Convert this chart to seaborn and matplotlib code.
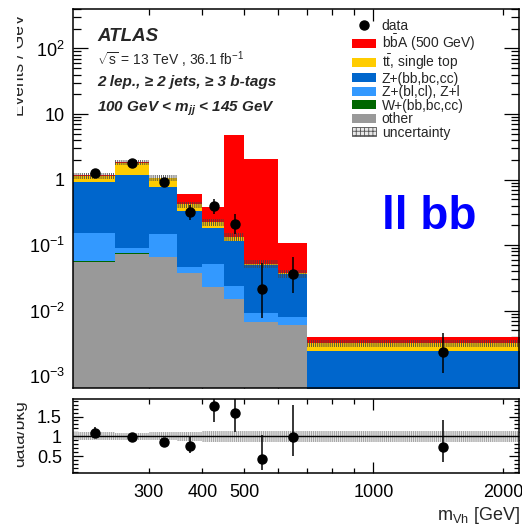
import numpy as np
import pandas as pd
import matplotlib
matplotlib.use("Agg")
import matplotlib.pyplot as plt
import seaborn as sns
from matplotlib.patches import Patch
from matplotlib.lines import Line2D
from matplotlib.ticker import LogLocator, FuncFormatter, NullFormatter, MultipleLocator
from matplotlib.transforms import Bbox, TransformedBbox

# ---- binning (GeV) ----
bin_edges = [200, 250, 300, 350, 400, 450, 500, 600, 700, 2200]
bin_centers = [225, 275, 325, 375, 425, 475, 550, 650, 1450]

# ---- expected yields, events / GeV ----
signal = [0.005, 0.03, 0.02, 0.18, 0.165, 4.6, 2.04, 0.072, 0.0008]
top = [0.23, 0.62, 0.29, 0.09, 0.037, 0.018, 0.0008, 0.001, 0.00075]
z_hf = [0.77, 1.10, 0.615, 0.28, 0.134, 0.092, 0.041, 0.028, 0.002]
z_lf = [0.094, 0.017, 0.080, 0.009, 0.028, 0.0085, 0.0026, 0.002, 0.0001]
w_hf = [0.0005, 0.0005, 0.0005, 0.0003, 0.0002, 0.0002, 0.0001, 0.0001, 0.00002]
other = [0.056, 0.074, 0.065, 0.037, 0.023, 0.015, 0.0066, 0.006, 0.0003]
syst_rel = [0.10, 0.09, 0.10, 0.11, 0.13, 0.13, 0.14, 0.14, 0.13]

# ---- observed data ----
data = [1.26, 1.77, 0.91, 0.32, 0.39, 0.213, 0.0217, 0.0367, 0.0023]
data_err_lo = [0.17, 0.17, 0.10, 0.08, 0.09, 0.065, 0.014, 0.018, 0.0012]
data_err_hi = [0.17, 0.17, 0.10, 0.09, 0.11, 0.09, 0.031, 0.03, 0.0022]

process_labels = [r"b$\bar{\mathrm{b}}$A (500 GeV)", r"t$\bar{\mathrm{t}}$, single top",
                  "Z+(bb,bc,cc)", "Z+(bl,cl), Z+l", "W+(bb,bc,cc)", "other"]
process_colors = ["#ff0000", "#ffcc00", "#0066cc", "#3399ff", "#006600", "#999999"]

sns.set_style("ticks")
plt.rcParams["font.family"] = ["Liberation Sans", "DejaVu Sans"]
plt.rcParams["mathtext.fontset"] = "custom"
plt.rcParams["mathtext.rm"] = "Liberation Sans"
plt.rcParams["mathtext.it"] = "Liberation Sans:italic:bold"
plt.rcParams["mathtext.bf"] = "Liberation Sans:bold"
plt.rcParams["axes.edgecolor"] = "black"
plt.rcParams["xtick.color"] = "black"
plt.rcParams["ytick.color"] = "black"
plt.rcParams["hatch.linewidth"] = 0.6

yields = [signal, top, z_hf, z_lf, w_hf, other]
df = pd.DataFrame({
    "m_vh": np.tile(bin_centers, len(yields)),
    "events": np.concatenate(yields),
    "process": np.repeat(process_labels, len(bin_centers)),
})

bkg = np.sum([top, z_hf, z_lf, w_hf, other], axis=0)
syst = np.array(syst_rel)
data_a = np.array(data)
lo_a = np.array(data_err_lo)
hi_a = np.array(data_err_hi)

fig = plt.figure(figsize=(5.22, 5.24), dpi=100)
W, H = 522.0, 524.0
left, right = 73 / W, 519 / W
ax = fig.add_axes([left, 1 - 388 / H, right - left, (388 - 9) / H])
rax = fig.add_axes([left, 1 - 473 / H, right - left, (473 - 399) / H])

# ---- stacked histogram ----
sns.histplot(data=df, x="m_vh", weights="events", hue="process",
             hue_order=process_labels, palette=process_colors, bins=bin_edges,
             multiple="stack", element="step", fill=True, alpha=1, linewidth=0,
             legend=False, ax=ax)

# background uncertainty band
ax.stairs(bkg * (1 + syst), bin_edges, baseline=bkg * (1 - syst), fill=True,
          facecolor="none", edgecolor="#444444", hatch="||||||||", linewidth=0)

ax.errorbar(bin_centers, data, yerr=[data_err_lo, data_err_hi], fmt="o",
            color="black", ms=6.5, elinewidth=1.1, capsize=0, zorder=5)

ax.set_xscale("log")
ax.set_yscale("log")
ax.set_xlim(200, 2180)
ax.set_ylim(6.6e-4, 400)
ax.set_xlabel("")
ax.set_ylabel("")


def decade_label(v, pos):
    e = int(round(np.log10(v)))
    if e == 0:
        return "1"
    if e == 1:
        return "10"
    return r"$\mathrm{10^{%d}}$" % e


ax.yaxis.set_major_locator(LogLocator(base=10, numticks=20))
ax.yaxis.set_minor_locator(LogLocator(base=10, subs=np.arange(2, 10), numticks=20))
ax.yaxis.set_major_formatter(FuncFormatter(decade_label))
ax.yaxis.set_minor_formatter(NullFormatter())

minor_x = [300, 400, 500, 600, 700, 800, 900, 2000]
ax.set_xticks([1000])
ax.set_xticks(minor_x, minor=True)
ax.xaxis.set_major_formatter(NullFormatter())
ax.xaxis.set_minor_formatter(NullFormatter())

ax.tick_params(which="both", direction="in", top=True, right=True, width=0.9)
ax.tick_params(axis="y", which="major", length=10.5, labelsize=13, pad=6)
ax.tick_params(axis="y", which="minor", length=5.5)
ax.tick_params(axis="x", which="major", length=8.5)
ax.tick_params(axis="x", which="minor", length=4.5)
for s in ax.spines.values():
    s.set_visible(True)
    s.set_linewidth(1.1)

# ---- ratio panel ----
ratio = data_a / bkg
rax.stairs(1 + syst, bin_edges, baseline=1 - syst, fill=True,
           facecolor="#e4e4e4", edgecolor="#9a9a9a", hatch="||||||||", linewidth=0)
rax.axhline(1.0, color="black", lw=1.0)
rax.errorbar(bin_centers, ratio, yerr=[lo_a / bkg, hi_a / bkg], fmt="o",
             color="black", ms=6.5, elinewidth=1.1, capsize=0, zorder=5,
             clip_on=True)
rax.set_xscale("log")
rax.set_xlim(200, 2180)
rax.set_ylim(0.08, 1.94)
rax.set_xticks([1000], labels=["1000"])
rax.set_xticks(minor_x, labels=["300", "400", "500", "", "", "", "", "2000"], minor=True)
rax.set_yticks([0.5, 1.0, 1.5], labels=["0.5", "1", "1.5"])
rax.yaxis.set_minor_locator(MultipleLocator(0.1))
rax.tick_params(which="both", direction="in", top=True, right=True, width=0.9,
                labelsize=13)
rax.tick_params(axis="x", which="both", pad=8)
rax.tick_params(axis="x", which="major", length=8)
rax.tick_params(axis="x", which="minor", length=3.8)
rax.tick_params(axis="y", which="major", length=7, pad=8)
rax.tick_params(axis="y", which="minor", length=3.8)
rax.set_xlabel("")
rax.set_ylabel("")
for s in rax.spines.values():
    s.set_visible(True)
    s.set_linewidth(1.1)

# ---- axis titles (left edge of the page clips them) ----
clip = TransformedBbox(Bbox.from_extents(17 / W, 0, 1, 1), fig.transFigure)
t1 = fig.text(27 / W, 1 - 13 / H, "Events / GeV", rotation=90, ha="right",
              va="top", fontsize=12.5)
t2 = fig.text(27 / W, 1 - 434 / H, "data/bkg", rotation=90, ha="right",
              va="center", fontsize=12.5)
for t in (t1, t2):
    t.set_clip_on(True)
    t.set_clip_box(clip)

fig.text(520 / W, 1 - 515 / H, r"m$_{\mathrm{Vh}}$ [GeV]", ha="right",
         va="center", fontsize=13)

# ---- labels inside the plot ----
x0 = 97 / W
fig.text(x0, 1 - 41 / H, "ATLAS", fontsize=13.5, fontweight="bold",
         style="italic", va="baseline")
fig.text(x0, 1 - 65 / H, r"$\sqrt{\mathrm{s}}$ = 13 TeV , 36.1 fb$^{\mathrm{-1}}$",
         fontsize=10, va="baseline")
fig.text(x0, 1 - 86 / H, "2 lep., \u2265 2 jets, \u2265 3 b-tags", fontsize=11,
         fontweight="bold", style="italic", va="baseline")
fig.text(x0, 1 - 112 / H, r"100 GeV < $m_{jj}$ < 145 GeV", fontsize=11,
         fontweight="bold", style="italic", va="baseline")
fig.text(382 / W, 1 - 229 / H, "ll bb", fontsize=33, fontweight="bold",
         color="#0000ff", va="baseline")

# ---- legend ----
handles = [Line2D([], [], marker="o", color="black", ls="none", ms=6.5)]
handles += [Patch(facecolor=c, edgecolor="none") for c in process_colors]
handles.append(Patch(facecolor="#e8e8e8", edgecolor="#555555", hatch="++++",
                     linewidth=0.6))
labels = ["data"] + process_labels + ["uncertainty"]
ax.legend(handles, labels, loc="upper left", bbox_to_anchor=(352 / W, 1 - 19 / H),
          bbox_transform=fig.transFigure, frameon=False, fontsize=10,
          handlelength=1.75, handleheight=0.62, handletextpad=0.4,
          labelspacing=-0.04, borderpad=0, borderaxespad=0)

fig.savefig("out.png", dpi=100)
